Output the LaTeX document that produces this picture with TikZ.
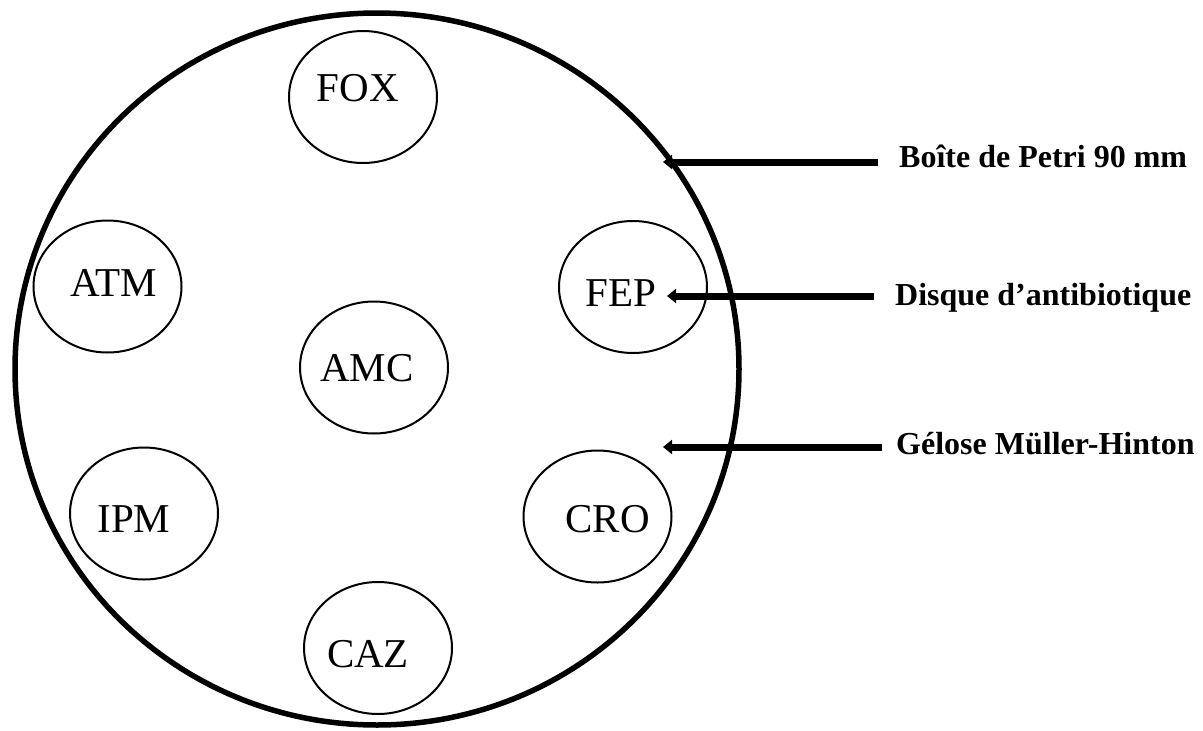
\documentclass[tikz,border=0pt]{standalone}
\usepackage{fontspec}
\setmainfont{Liberation Serif}
\usetikzlibrary{arrows.meta,shapes.geometric}
\begin{document}
\begin{tikzpicture}[x=1pt,y=-1pt,
  plate/.style={draw,ellipse,line width=5.5pt,inner sep=0pt,minimum width=724pt,minimum height=712pt},
  disc/.style={draw,ellipse,line width=2pt,inner sep=0pt,minimum width=148pt,minimum height=132pt},
  disctext/.style={inner sep=0pt,font=\fontsize{41}{49}\selectfont},
  lbl/.style={inner sep=0pt,anchor=base west,font=\fontsize{32}{38}\selectfont\bfseries},
  arr/.style={line width=7pt,-{Triangle[length=9pt,width=14pt]}}]
\useasboundingbox (0,0) rectangle (1203,731);
\node[plate] (plate) at (377,369) {};
\node[disc] (fox) at (363,97) {};
\node[disctext] (foxt) at (358,88.5) {FOX};
\node[disc] (atm) at (107.5,286.5) {};
\node[disctext] (atmt) at (114,282.5) {ATM};
\node[disc] (amc) at (374,367.5) {};
\node[disctext] (amct) at (367,368) {AMC};
\node[disc] (fep) at (633,287) {};
\node[disctext] (fept) at (621,293) {FEP};
\node[disc] (ipm) at (144,513.5) {};
\node[disctext] (ipmt) at (134,519) {IPM};
\node[disc] (cro) at (597.5,516.5) {};
\node[disctext] (crot) at (607.5,519.5) {CRO};
\node[disc] (caz) at (378,648) {};
\node[disctext] (cazt) at (368,654) {CAZ};
\node[lbl] (boite) at (899,167) {Boîte de Petri 90 mm};
\node[lbl] (disque) at (895,305) {Disque d’antibiotique};
\node[lbl] (gelose) at (896,454) {Gélose Müller-Hinton};
\coordinate (t1) at (878,162);
\coordinate (h1) at (663,162);
\coordinate (t2) at (874,296);
\coordinate (h2) at (667,296);
\coordinate (t3) at (882,447);
\coordinate (h3) at (663,447);
\draw[arr] (t1) -- (h1);
\draw[arr] (t2) -- (h2);
\draw[arr] (t3) -- (h3);
\end{tikzpicture}
\end{document}
